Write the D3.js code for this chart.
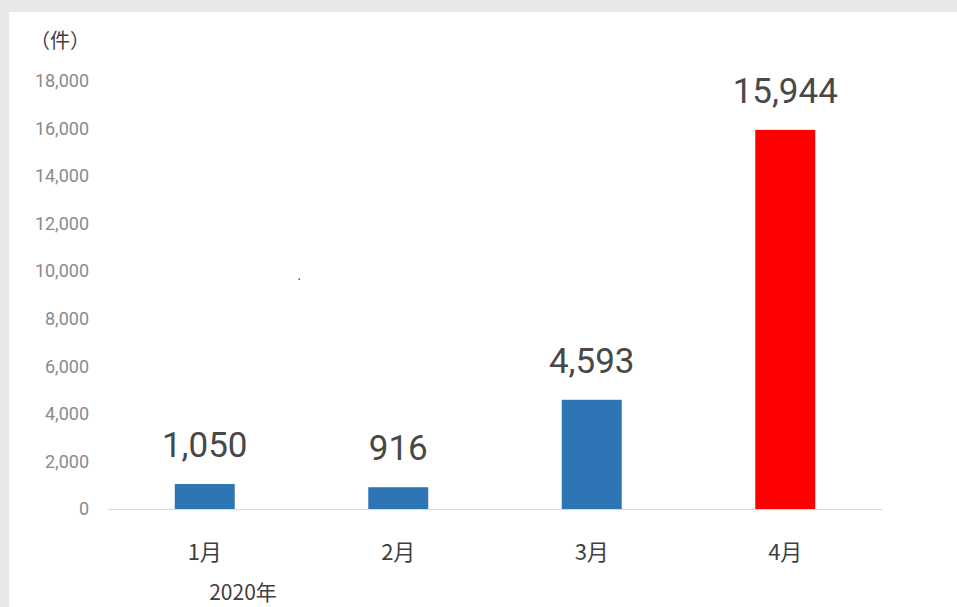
<!DOCTYPE html>
<html><head><meta charset="utf-8">
<script src="https://cdn.jsdelivr.net/npm/d3@7"></script>
<style>
html,body{margin:0;padding:0;background:#e8e8e8;}
svg{display:block;}
</style></head>
<body>
<svg id="chart" width="957" height="607"></svg>
<script>
const categories = ["1月", "2月", "3月", "4月"];
const values = [1050, 916, 4593, 15944];
const barColors = ["#2E75B6", "#2E75B6", "#2E75B6", "#FF0000"];
const yTicks = [0, 2000, 4000, 6000, 8000, 10000, 12000, 14000, 16000, 18000];
const unitLabel = "（件）";
const yearLabel = "2020年";

const svg = d3.select("#chart");
svg.append("rect").attr("x", 9).attr("y", 12).attr("width", 948).attr("height", 595).attr("fill", "#ffffff");

const x = d3.scaleBand().domain(categories).range([108, 882]).paddingInner(0.69).paddingOuter(0.345);
const y = d3.scaleLinear().domain([0, 18000]).range([509, 81]);

// y axis labels
const yAxis = d3.axisLeft(y).tickValues(yTicks).tickSize(0).tickPadding(0).tickFormat(d3.format(","));
const gy = svg.append("g").attr("transform", "translate(89,0)").call(yAxis);
gy.select(".domain").remove();
gy.selectAll("text").attr("font-family", "Roboto, sans-serif").attr("font-size", 18).attr("fill", "#8a8a8a");

// baseline
svg.append("line").attr("x1", 108).attr("x2", 882).attr("y1", y(0) + 0.5).attr("y2", y(0) + 0.5)
  .attr("stroke", "#d9d9d9").attr("stroke-width", 1.2);

// bars
svg.selectAll("rect.bar").data(values).join("rect").attr("class", "bar")
  .attr("x", (d, i) => x(categories[i]))
  .attr("width", x.bandwidth())
  .attr("y", d => y(d))
  .attr("height", d => y(0) - y(d))
  .attr("fill", (d, i) => barColors[i]);

// value labels
svg.selectAll("text.val").data(values).join("text").attr("class", "val")
  .attr("x", (d, i) => x(categories[i]) + x.bandwidth() / 2)
  .attr("y", d => y(d) - 27)
  .attr("text-anchor", "middle")
  .attr("font-family", "Roboto, sans-serif").attr("font-size", 35).attr("fill", "#484848")
  .text(d => d3.format(",")(d));

// x axis labels
const xAxis = d3.axisBottom(x).tickSize(0).tickPadding(0);
const gx = svg.append("g").attr("transform", "translate(0,560)").call(xAxis);
gx.select(".domain").remove();
gx.selectAll("text").attr("dy", 0).attr("font-family", "'Noto Sans CJK JP', sans-serif").attr("font-size", 22).attr("fill", "#404040");

svg.append("text").attr("x", 243).attr("y", 600).attr("text-anchor", "middle")
  .attr("font-family", "'Noto Sans CJK JP', sans-serif").attr("font-size", 21).attr("fill", "#404040").text(yearLabel);

svg.append("text").attr("x", 60).attr("y", 48).attr("text-anchor", "middle")
  .attr("font-family", "'Noto Sans CJK JP', sans-serif").attr("font-size", 20).attr("fill", "#404040").text(unitLabel);

// stray dot present in original
svg.append("rect").attr("x", 298.5).attr("y", 278.5).attr("width", 1.5).attr("height", 1.5).attr("fill", "#555");
</script>
</body></html>
